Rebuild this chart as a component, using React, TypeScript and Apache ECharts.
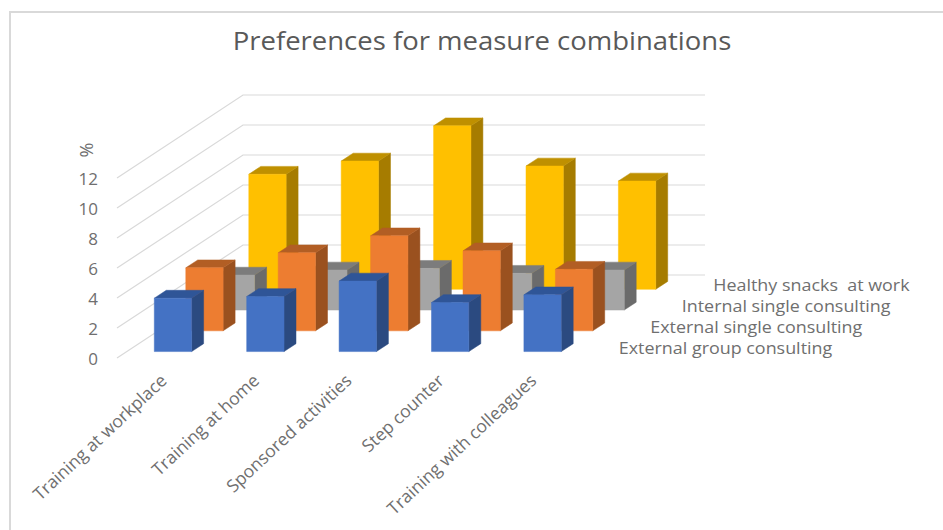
import React, { useEffect, useRef } from "react";
import * as echarts from "echarts";

const categories = [
  "Training at workplace",
  "Training at home",
  "Sponsored activities",
  "Step counter",
  "Training with colleagues",
];
const depthLabels = [
  "External group consulting",
  "External single consulting",
  "Internal single consulting",
  "Healthy snacks  at work",
];
const externalGroup = [3.56, 3.67, 4.7, 3.27, 3.78];
const externalSingle = [4.2, 5.2, 6.33, 5.33, 4.1];
const internalSingle = [2.33, 2.67, 2.78, 2.45, 2.67];
const healthySnacks = [7.67, 8.55, 10.9, 8.22, 7.22];
const yTicks = [0, 2, 4, 6, 8, 10, 12];

// Faces of each cuboid: front, side, top
const palette = [
  ["#4472C4", "#2B4A80", "#2F5597"],
  ["#ED7D31", "#9A511F", "#B25E24"],
  ["#A5A5A5", "#6B6B6B", "#7C7C7C"],
  ["#FFC000", "#A67C00", "#BF9000"],
];

// Oblique floor depth in pixels, front edge to back wall
const DEPTH_X = 126;
const DEPTH_Y = -83;
const ROWS = 4;
const BAR_SHARE = 0.404;
const DEPTH_SHARE = 0.38;

const barRenderer = (row: number) => (params: any, api: any) => {
  const cat = api.value(0);
  const val = api.value(1);
  const base = api.coord([cat, 0]);
  const top = api.coord([cat, val]);
  const band = api.size([1, 0])[0];
  const w = band * BAR_SHARE;
  const dx = (DEPTH_X / ROWS) * DEPTH_SHARE;
  const dy = (DEPTH_Y / ROWS) * DEPTH_SHARE;
  const offX = (DEPTH_X / ROWS) * (row + 0.5) - dx / 2;
  const offY = (DEPTH_Y / ROWS) * (row + 0.5) - dy / 2;
  const x0 = base[0] + offX - w / 2;
  const x1 = x0 + w;
  const y0 = base[1] + offY;
  const y1 = top[1] + offY;
  const [front, side, lid] = palette[row];
  const poly = (points: number[][], fill: string) => ({
    type: "polygon",
    shape: { points },
    style: { fill, stroke: fill, lineWidth: 0.5 },
  });
  return {
    type: "group",
    children: [
      poly([[x1, y0], [x1 + dx, y0 + dy], [x1 + dx, y1 + dy], [x1, y1]], side),
      poly([[x0, y1], [x1, y1], [x1 + dx, y1 + dy], [x0 + dx, y1 + dy]], lid),
      poly([[x0, y0], [x1, y0], [x1, y1], [x0, y1]], front),
    ],
  };
};

// Gridline: runs up the left wall from the front edge, then along the back wall
const gridRenderer = (params: any, api: any) => {
  const v = api.value(1);
  const band = api.size([1, 0])[0];
  const first = api.coord([0, v]);
  const last = api.coord([categories.length - 1, v]);
  const a = [first[0] - band / 2, first[1]];
  const b = [last[0] + band / 2, last[1]];
  return {
    type: "polyline",
    shape: {
      points: [
        a,
        [a[0] + DEPTH_X, a[1] + DEPTH_Y],
        [b[0] + DEPTH_X, b[1] + DEPTH_Y],
      ],
    },
    style: { fill: "none", stroke: "#d9d9d9", lineWidth: 1.2 },
  };
};

const depthLabelRenderer = (params: any, api: any) => {
  const row = api.value(0);
  const band = api.size([1, 0])[0];
  const p = api.coord([categories.length - 1, 0]);
  return {
    type: "text",
    x: p[0] + band / 2 + (DEPTH_X / ROWS) * (row + 0.5) + 24,
    y: p[1] + (DEPTH_Y / ROWS) * (row + 0.5),
    scaleX: 1.12,
    style: {
      text: depthLabels[row],
      fill: "#6f6f6f",
      font: '16px "Open Sans"',
      textAlign: "left",
      textVerticalAlign: "middle",
    },
  };
};

const rows = [externalGroup, externalSingle, internalSingle, healthySnacks];

export default function App() {
  const ref = useRef<HTMLDivElement>(null);
  useEffect(() => {
    const chart = echarts.init(ref.current!, undefined, { renderer: "svg" });
    const barSeries = rows
      .map((values, row) => ({
        type: "custom",
        name: depthLabels[row],
        renderItem: barRenderer(row),
        data: values.map((v, i) => [i, v]),
        z: 10 + (ROWS - row),
        encode: { x: 0, y: 1 },
      }))
      .reverse();
    chart.setOption({
      animation: false,
      backgroundColor: "#fff",
      grid: { left: 117, right: 364, top: 178, bottom: 172 },
      xAxis: {
        type: "category",
        data: categories,
        axisLine: { show: false },
        axisTick: { show: false },
        splitLine: { show: false },
        axisLabel: {
          rotate: 43,
          interval: 0,
          margin: 19,
          fontFamily: "Open Sans",
          fontSize: 17.5,
          color: "#6f6f6f",
        },
      },
      yAxis: {
        type: "value",
        min: 0,
        max: 12,
        interval: 2,
        axisLine: { show: false },
        axisTick: { show: false },
        splitLine: { show: false },
        axisLabel: {
          margin: 19,
          fontFamily: "Open Sans",
          fontSize: 17,
          color: "#6f6f6f",
        },
      },
      graphic: [
        {
          type: "rect",
          shape: { x: 10, y: 12, width: 960, height: 540 },
          style: { fill: "none", stroke: "#d9d9d9", lineWidth: 2 },
          silent: true,
        },
        {
          type: "text",
          x: 482,
          y: 40,
          scaleX: 1.1,
          style: {
            text: "Preferences for measure combinations",
            fill: "#595959",
            font: '25px "Open Sans"',
            textAlign: "center",
            textVerticalAlign: "middle",
          },
        },
        {
          type: "text",
          x: 86,
          y: 150,
          rotation: Math.PI / 2,
          style: {
            text: "%",
            fill: "#6f6f6f",
            font: '18px "Open Sans"',
            textAlign: "center",
            textVerticalAlign: "middle",
          },
        },
      ],
      series: [
        {
          type: "custom",
          name: "gridlines",
          renderItem: gridRenderer,
          data: yTicks.map((v) => [0, v]),
          encode: { x: 0, y: 1 },
          z: 1,
        },
        ...barSeries,
        {
          type: "custom",
          name: "depth labels",
          renderItem: depthLabelRenderer,
          data: depthLabels.map((_, i) => [i, 0]),
          encode: { x: 0, y: 1 },
          z: 20,
        },
      ],
    });
    return () => chart.dispose();
  }, []);
  return (
    <div
      ref={ref}
      style={{ position: "fixed", left: 0, top: 0, width: 943, height: 530 }}
    />
  );
}
